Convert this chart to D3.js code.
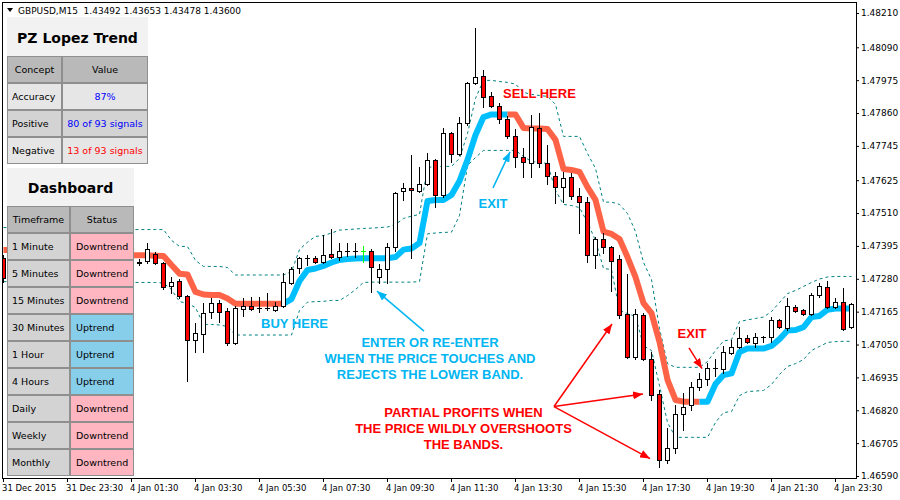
<!DOCTYPE html>
<html>
<head>
<meta charset="utf-8">
<title>GBPUSD M15 - PZ Lopez Trend</title>
<script src="https://cdn.jsdelivr.net/npm/d3@7/dist/d3.min.js"></script>
<style>
  html, body { margin: 0; padding: 0; background: #ffffff; }
  svg { display: block; }
</style>
</head>
<body>
<svg id="chart" width="900" height="500"></svg>
<script>
// ---------------- data ----------------
const symbolInfo = "GBPUSD,M15  1.43492 1.43653 1.43478 1.43600";

// 15-minute candles, oldest first
const opens = [
  1.47353,1.47311,1.47336,1.47364,1.47340,1.47380,1.47352,1.47326,1.47358,1.47382,
  1.47346,1.47371,1.47394,1.47362,1.47340,1.47360,1.47364,1.47337,1.47342,1.47367,
  1.47335,1.47255,1.47272,1.47220,1.47066,1.47087,1.47164,1.47195,1.47167,1.47055,
  1.47174,1.47185,1.47178,1.47177,1.47171,1.47185,1.47265,1.47318,1.47353,1.47353,
  1.47339,1.47367,1.47356,1.47377,1.47376,1.47377,1.47377,1.47286,1.47314,1.47391,
  1.47587,1.47598,1.47587,1.47612,1.47696,1.47573,1.47790,1.47717,1.47825,1.47965,
  1.47990,1.47920,1.47885,1.47839,1.47780,1.47706,1.47685,1.47808,1.47685,1.47640,
  1.47601,1.47636,1.47570,1.47549,1.47363,1.47419,1.47391,1.47349,1.47157,1.47006,
  1.47153,1.46999,1.46877,1.46646,1.46688,1.46807,1.46838,1.46901,1.46929,1.46968,
  1.46964,1.47020,1.47041,1.47073,1.47055,1.47076,1.47076,1.47136,1.47108,1.47181,
  1.47171,1.47157,1.47223,1.47251,1.47181,1.47199,1.47111
];
const highs = [
  1.47363,1.47352,1.47380,1.47374,1.47395,1.47391,1.47363,1.47374,1.47402,1.47388,
  1.47384,1.47409,1.47405,1.47374,1.47381,1.47372,1.47374,1.47349,1.47405,1.47374,
  1.47339,1.47286,1.47279,1.47223,1.47125,1.47195,1.47213,1.47206,1.47178,1.47185,
  1.47213,1.47216,1.47216,1.47230,1.47199,1.47300,1.47321,1.47356,1.47363,1.47360,
  1.47433,1.47454,1.47405,1.47405,1.47405,1.47395,1.47384,1.47332,1.47405,1.47584,
  1.47615,1.47713,1.47671,1.47720,1.47699,1.47808,1.47794,1.47846,1.47969,1.48158,
  1.48011,1.47934,1.47895,1.47850,1.47804,1.47738,1.47853,1.47860,1.47748,1.47654,
  1.47654,1.47650,1.47598,1.47566,1.47426,1.47440,1.47395,1.47363,1.47297,1.47174,
  1.47160,1.47024,1.46891,1.46758,1.46838,1.46880,1.46918,1.46950,1.46985,1.46999,
  1.47045,1.47066,1.47111,1.47083,1.47090,1.47080,1.47146,1.47139,1.47213,1.47188,
  1.47174,1.47230,1.47265,1.47272,1.47213,1.47248,1.47195
];
const lows = [
  1.47269,1.47293,1.47325,1.47325,1.47332,1.47339,1.47311,1.47314,1.47351,1.47335,
  1.47339,1.47360,1.47353,1.47328,1.47332,1.47349,1.47326,1.47328,1.47335,1.47332,
  1.47244,1.47230,1.47213,1.46922,1.47024,1.47024,1.47143,1.47129,1.47048,1.47052,
  1.47150,1.47171,1.47164,1.47171,1.47167,1.47181,1.47262,1.47300,1.47328,1.47335,
  1.47335,1.47353,1.47346,1.47360,1.47356,1.47339,1.47234,1.47265,1.47265,1.47377,
  1.47556,1.47353,1.47584,1.47608,1.47531,1.47566,1.47689,1.47713,1.47818,1.47962,
  1.47881,1.47881,1.47825,1.47773,1.47671,1.47636,1.47636,1.47671,1.47612,1.47545,
  1.47549,1.47559,1.47440,1.47339,1.47318,1.47370,1.47237,1.47143,1.47003,1.46999,
  1.46996,1.46856,1.46621,1.46635,1.46670,1.46751,1.46821,1.46891,1.46908,1.46940,
  1.46950,1.47017,1.47038,1.47055,1.47041,1.47059,1.47059,1.47108,1.47101,1.47164,
  1.47153,1.47153,1.47216,1.47178,1.47178,1.47101,1.47108
];
const closes = [
  1.47283,1.47338,1.47363,1.47339,1.47381,1.47353,1.47325,1.47360,1.47383,1.47346,
  1.47370,1.47395,1.47363,1.47339,1.47363,1.47366,1.47343,1.47338,1.47384,1.47335,
  1.47251,1.47269,1.47220,1.47066,1.47090,1.47160,1.47195,1.47164,1.47055,1.47178,
  1.47185,1.47174,1.47177,1.47178,1.47185,1.47269,1.47314,1.47353,1.47352,1.47339,
  1.47363,1.47356,1.47377,1.47376,1.47377,1.47377,1.47321,1.47314,1.47391,1.47580,
  1.47598,1.47591,1.47612,1.47696,1.47573,1.47790,1.47717,1.47825,1.47965,1.47986,
  1.47916,1.47885,1.47839,1.47780,1.47706,1.47689,1.47811,1.47685,1.47640,1.47601,
  1.47633,1.47570,1.47549,1.47363,1.47419,1.47391,1.47342,1.47153,1.47006,1.47157,
  1.46999,1.46873,1.46646,1.46688,1.46807,1.46831,1.46901,1.46929,1.46968,1.46969,
  1.47024,1.47041,1.47073,1.47059,1.47076,1.47077,1.47136,1.47111,1.47185,1.47167,
  1.47157,1.47223,1.47255,1.47181,1.47199,1.47104,1.47192
];

// PZ Lopez Trend indicator: centre line, its direction (1 up, -1 down) and bands
const trend = [
  1.47381,1.47381,1.47381,1.47377,1.47377,1.47374,1.47374,1.47370,1.47370,1.47367,
  1.47367,1.47363,1.47363,1.47363,1.47363,1.47363,1.47362,1.47362,1.47362,1.47361,
  1.47360,1.47328,1.47298,1.47295,1.47234,1.47225,1.47223,1.47223,1.47211,1.47193,
  1.47193,1.47193,1.47193,1.47193,1.47193,1.47193,1.47209,1.47272,1.47311,1.47316,
  1.47325,1.47337,1.47346,1.47349,1.47351,1.47352,1.47352,1.47352,1.47352,1.47356,
  1.47382,1.47386,1.47405,1.47552,1.47556,1.47556,1.47573,1.47622,1.47696,1.47783,
  1.47846,1.47855,1.47855,1.47855,1.47855,1.47808,1.47806,1.47806,1.47804,1.47766,
  1.47664,1.47661,1.47654,1.47601,1.47556,1.47445,1.47437,1.47419,1.47356,1.47286,
  1.47195,1.47160,1.47059,1.46926,1.46856,1.46850,1.46850,1.46850,1.46850,1.46912,
  1.46943,1.46949,1.47024,1.47036,1.47036,1.47036,1.47045,1.47069,1.47099,1.47101,
  1.47111,1.47146,1.47150,1.47172,1.47176,1.47176,1.47176
];
const trendDir = [
  -1,-1,-1,-1,-1,-1,-1,-1,-1,-1,
  -1,-1,-1,-1,-1,-1,-1,-1,-1,-1,
  -1,-1,-1,-1,-1,-1,-1,-1,-1,-1,
  -1,-1,-1,-1,-1,-1, 1, 1, 1, 1,
   1, 1, 1, 1, 1, 1, 1, 1, 1, 1,
   1, 1, 1, 1, 1, 1, 1, 1, 1, 1,
   1, 1, 1, 1,-1,-1,-1,-1,-1,-1,
  -1,-1,-1,-1,-1,-1,-1,-1,-1,-1,
  -1,-1,-1,-1,-1,-1,-1,-1, 1, 1,
   1, 1, 1, 1, 1, 1, 1, 1, 1, 1,
   1, 1, 1, 1, 1, 1, 1
];
const upperBand = [
  1.47461,1.47461,1.47461,1.47461,1.47458,1.47458,1.47458,1.47458,1.47458,1.47458,
  1.47454,1.47454,1.47454,1.47454,1.47454,1.47454,1.47454,1.47454,1.47454,1.47454,
  1.47454,1.47416,1.47395,1.47395,1.47346,1.47325,1.47325,1.47325,1.47321,1.47295,
  1.47295,1.47295,1.47295,1.47295,1.47295,1.47295,1.47307,1.47384,1.47410,1.47430,
  1.47433,1.47442,1.47452,1.47454,1.47456,1.47458,1.47459,1.47461,1.47463,1.47472,
  1.47493,1.47501,1.47507,1.47671,1.47675,1.47675,1.47675,1.47703,1.47790,1.47913,
  1.47976,1.47976,1.47972,1.47969,1.47963,1.47934,1.47927,1.47923,1.47920,1.47892,
  1.47780,1.47780,1.47780,1.47720,1.47668,1.47550,1.47550,1.47542,1.47510,1.47447,
  1.47339,1.47279,1.47108,1.46985,1.46972,1.46972,1.46972,1.46972,1.46992,1.47031,
  1.47064,1.47069,1.47132,1.47138,1.47143,1.47148,1.47167,1.47199,1.47230,1.47241,
  1.47255,1.47269,1.47281,1.47288,1.47290,1.47290,1.47290
];
const lowerBand = [
  1.47272,1.47272,1.47272,1.47272,1.47272,1.47272,1.47272,1.47272,1.47272,1.47272,
  1.47270,1.47270,1.47269,1.47269,1.47269,1.47269,1.47269,1.47269,1.47269,1.47269,
  1.47267,1.47244,1.47202,1.47196,1.47181,1.47122,1.47122,1.47120,1.47115,1.47085,
  1.47085,1.47085,1.47085,1.47085,1.47085,1.47085,1.47085,1.47171,1.47200,1.47202,
  1.47203,1.47206,1.47206,1.47223,1.47244,1.47269,1.47270,1.47270,1.47270,1.47270,
  1.47270,1.47270,1.47272,1.47439,1.47442,1.47444,1.47445,1.47503,1.47678,1.47706,
  1.47731,1.47731,1.47731,1.47731,1.47731,1.47710,1.47692,1.47689,1.47685,1.47591,
  1.47542,1.47538,1.47531,1.47479,1.47416,1.47318,1.47314,1.47171,1.47160,1.47150,
  1.47048,1.47031,1.46908,1.46779,1.46727,1.46727,1.46727,1.46727,1.46727,1.46779,
  1.46814,1.46817,1.46873,1.46887,1.46889,1.46891,1.46912,1.46947,1.46975,1.46985,
  1.46999,1.47031,1.47045,1.47059,1.47062,1.47063,1.47063
];

// axis labels
const priceTicks = ["1.48210","1.48090","1.47975","1.47860","1.47745","1.47625","1.47510",
  "1.47395","1.47280","1.47165","1.47050","1.46935","1.46820","1.46705","1.46590"];
const timeLabels = ["31 Dec 2015","31 Dec 23:30","4 Jan 01:30","4 Jan 03:30","4 Jan 05:30",
  "4 Jan 07:30","4 Jan 09:30","4 Jan 11:30","4 Jan 13:30","4 Jan 15:30","4 Jan 17:30",
  "4 Jan 19:30","4 Jan 21:30","4 Jan 23:30"];
const barsPerTimeLabel = 8;

// statistics panel
const statsTitle = "PZ Lopez Trend";
const statsHeader = ["Concept", "Value"];
const statsConcepts = ["Accuracy", "Positive", "Negative"];
const statsValues = ["87%", "80 of 93 signals", "13 of 93 signals"];
const statsTone = ["good", "good", "bad"];

// multi-timeframe dashboard
const dashTitle = "Dashboard";
const dashHeader = ["Timeframe", "Status"];
const dashTimeframes = ["1 Minute","5 Minutes","15 Minutes","30 Minutes","1 Hour","4 Hours","Daily","Weekly","Monthly"];
const dashStatus = ["Downtrend","Downtrend","Downtrend","Uptrend","Uptrend","Uptrend","Downtrend","Downtrend","Downtrend"];

// trading notes, anchored in bar / price space
const notes = [
  { lines: ["SELL HERE"], bar: 67.06, price: 1.47930, tone: "sell" },
  { lines: ["EXIT"], bar: 61.25, price: 1.47545, tone: "buy" },
  { lines: ["BUY HERE"], bar: 36.44, price: 1.47122, tone: "buy" },
  { lines: ["ENTER OR RE-ENTER", "WHEN THE PRICE TOUCHES AND", "REJECTS THE LOWER BAND."], bar: 53.375, price: 1.47056, tone: "buy" },
  { lines: ["PARTIAL PROFITS WHEN", "THE PRICE WILDLY OVERSHOOTS", "THE BANDS."], bar: 57.56, price: 1.46811, tone: "sell" },
  { lines: ["EXIT"], bar: 86.125, price: 1.47090, tone: "sell" }
];
const noteArrows = [
  { from: [52.625, 1.47097], to: [46.75, 1.47237], tone: "buy" },
  { from: [61.25, 1.47598], to: [63.375, 1.47724], tone: "buy" },
  { from: [68.875, 1.46833], to: [76.125, 1.47122], tone: "sell" },
  { from: [68.875, 1.46833], to: [80.0, 1.46877], tone: "sell" },
  { from: [68.875, 1.46833], to: [80.875, 1.46651], tone: "sell" },
  { from: [85.75, 1.47038], to: [87.375, 1.46966], tone: "sell" }
];

// ---------------- styles ----------------
const COLORS = {
  bull: "#ffffff", bear: "#ff0000", outline: "#000000", flat: "#00ff00",
  up: "#00bfff", down: "#ff6347", band: "#008080",
  buy: "#00b6f2", sell: "#ff0000",
  cellBorder: "#8f8f8f", title: "#f2f2f2", header: "#b9b9b9",
  cellDark: "#d3d3d3", cellLight: "#e6e6e6",
  upCell: "#87ceeb", downCell: "#ffb6c1",
  good: "#0000ff", bad: "#ff0000"
};
const AXIS_FONT = "'DejaVu Sans', Verdana, sans-serif";
const NOTE_FONT = "'Liberation Sans', Arial, sans-serif";

// ---------------- chart ----------------
const svg = d3.select("#chart");
const frame = { left: 2, top: 2, right: 856, bottom: 478 };
const n = closes.length;
const bars = d3.range(n);

const x = d3.scaleLinear().domain([0, n - 1]).range([3, 3 + 8 * (n - 1)]);
const y = d3.scaleLinear().domain([1.46590, 1.48210]).range([476, 13]);
const py = v => Math.round(y(v));

svg.append("rect").attr("width", 900).attr("height", 500).attr("fill", "#fff");

const defs = svg.append("defs");
defs.append("clipPath").attr("id", "plotClip").append("rect")
  .attr("x", frame.left + 1).attr("y", frame.top + 1)
  .attr("width", frame.right - frame.left - 1).attr("height", frame.bottom - frame.top - 1);

const plot = svg.append("g").attr("clip-path", "url(#plotClip)");

// bands
[upperBand, lowerBand].forEach(band => {
  plot.append("path")
    .attr("d", d3.line().x(i => x(i) + 0.5).y(i => y(band[i]) + 0.5)(bars))
    .attr("fill", "none")
    .attr("stroke", COLORS.band)
    .attr("stroke-width", 1)
    .attr("stroke-dasharray", "3,3");
});

// trend line, coloured by direction; segment (i-1, i) takes the colour of bar i
const runs = [];
let runStart = 0;
for (let i = 1; i <= n; i++) {
  if (i === n || trendDir[i] !== trendDir[runStart]) {
    runs.push({ from: Math.max(runStart - 1, 0), to: i - 1, dir: trendDir[runStart] });
    runStart = i;
  }
}
const trendLine = d3.line().x(i => x(i) + 0.5).y(i => y(trend[i]));
runs.forEach(r => {
  plot.append("path")
    .attr("d", trendLine(d3.range(r.from, r.to + 1)))
    .attr("fill", "none")
    .attr("stroke", r.dir > 0 ? COLORS.up : COLORS.down)
    .attr("stroke-width", 6)
    .attr("stroke-linejoin", "round")
    .attr("stroke-linecap", "butt");
});

// candles
const candles = plot.append("g");
bars.forEach(i => {
  const o = opens[i], c = closes[i];
  const cx = Math.round(x(i));
  const flat = o === c;
  const ink = flat ? COLORS.flat : COLORS.outline;
  candles.append("line")
    .attr("x1", cx + 0.5).attr("x2", cx + 0.5)
    .attr("y1", py(highs[i])).attr("y2", py(lows[i]) + 1)
    .attr("stroke", ink).attr("stroke-width", 1);
  const top = py(Math.max(o, c)), bot = py(Math.min(o, c));
  if (bot > top) {
    candles.append("rect")
      .attr("x", cx - 1.5).attr("y", top + 0.5)
      .attr("width", 4).attr("height", bot - top)
      .attr("fill", c > o ? COLORS.bull : COLORS.bear)
      .attr("stroke", ink).attr("stroke-width", 1);
  } else {
    candles.append("line")
      .attr("x1", cx - 2).attr("x2", cx + 3)
      .attr("y1", top + 0.5).attr("y2", top + 0.5)
      .attr("stroke", ink).attr("stroke-width", 1);
  }
});

// frame
svg.append("rect")
  .attr("x", frame.left + 0.5).attr("y", frame.top + 0.5)
  .attr("width", frame.right - frame.left).attr("height", frame.bottom - frame.top)
  .attr("fill", "none").attr("stroke", "#000").attr("stroke-width", 1);

// price axis
const yAxis = d3.axisRight(y)
  .tickValues(priceTicks.map(Number))
  .tickFormat((d, k) => priceTicks[k])
  .tickSize(3).tickPadding(2);
svg.append("g")
  .attr("transform", `translate(${frame.right},0)`)
  .call(yAxis)
  .call(g => g.select(".domain").remove())
  .call(g => g.selectAll("line").attr("stroke", "#000"))
  .call(g => g.selectAll("text").attr("fill", "#000")
    .style("font-family", AXIS_FONT).style("font-size", "9px"));

// time axis
const xAxis = d3.axisBottom(x)
  .tickValues(timeLabels.map((_, k) => k * barsPerTimeLabel))
  .tickFormat((d, k) => timeLabels[k])
  .tickSize(4).tickPadding(3);
svg.append("g")
  .attr("transform", `translate(0,${frame.bottom})`)
  .call(xAxis)
  .call(g => g.select(".domain").remove())
  .call(g => g.selectAll("line").attr("stroke", "#000"))
  .call(g => g.selectAll("text").attr("fill", "#000")
    .attr("text-anchor", "start").attr("dx", -1.5)
    .style("font-family", AXIS_FONT).style("font-size", "8.5px"));

// symbol caption
svg.append("path").attr("d", "M7,8 L13,8 L10,12 Z").attr("fill", "#000");
svg.append("text")
  .attr("x", 18).attr("y", 14)
  .style("white-space", "pre")
  .style("font-family", AXIS_FONT).style("font-size", "9px")
  .attr("fill", "#000")
  .text(symbolInfo);

// ---------------- panels ----------------
const CELL_FONT = "9.5px";
function cell(g, x0, y0, w, h, fill) {
  g.append("rect")
    .attr("x", x0 + 0.5).attr("y", y0 + 0.5)
    .attr("width", w - 1).attr("height", h - 1)
    .attr("fill", fill).attr("stroke", COLORS.cellBorder).attr("stroke-width", 1);
}
function cellText(g, tx, ty, txt, anchor, color) {
  g.append("text")
    .attr("x", tx).attr("y", ty)
    .attr("text-anchor", anchor)
    .attr("dominant-baseline", "central")
    .attr("fill", color)
    .style("font-family", AXIS_FONT).style("font-size", CELL_FONT)
    .text(txt);
}
function panel(opt) {
  const g = svg.append("g");
  const [c1, c2] = opt.cols;
  const width = c1 + c2;
  g.append("rect").attr("x", opt.x).attr("y", opt.y)
    .attr("width", width).attr("height", opt.titleH).attr("fill", COLORS.title);
  g.append("text")
    .attr("x", opt.x + width / 2).attr("y", opt.y + opt.titleH / 2 + 1)
    .attr("text-anchor", "middle").attr("dominant-baseline", "central")
    .style("font-family", AXIS_FONT).style("font-size", "14px").style("font-weight", "bold")
    .attr("fill", "#000").text(opt.title);
  let yy = opt.y + opt.titleH;
  cell(g, opt.x, yy, c1, opt.rowH, COLORS.header);
  cell(g, opt.x + c1, yy, c2, opt.rowH, COLORS.header);
  cellText(g, opt.x + c1 / 2, yy + opt.rowH / 2, opt.header[0], "middle", "#000");
  cellText(g, opt.x + c1 + c2 / 2, yy + opt.rowH / 2, opt.header[1], "middle", "#000");
  yy += opt.rowH;
  opt.rows.forEach((r, k) => {
    cell(g, opt.x, yy, c1, opt.rowH, r.labelFill);
    cell(g, opt.x + c1, yy, c2, opt.rowH, r.valueFill);
    cellText(g, opt.x + 5, yy + opt.rowH / 2, r.label, "start", "#000");
    const vx = r.valueAnchor === "middle" ? opt.x + c1 + c2 / 2 : opt.x + c1 + 6;
    cellText(g, vx, yy + opt.rowH / 2, r.value, r.valueAnchor, r.valueColor);
    yy += opt.rowH;
  });
}

panel({
  x: 7, y: 17, titleH: 39, rowH: 27, cols: [55, 86],
  title: statsTitle, header: statsHeader,
  rows: statsConcepts.map((c, k) => ({
    label: c, value: statsValues[k], valueAnchor: "middle",
    labelFill: k % 2 ? COLORS.cellDark : COLORS.cellLight,
    valueFill: k % 2 ? COLORS.cellDark : COLORS.cellLight,
    valueColor: COLORS[statsTone[k]]
  }))
});

panel({
  x: 7, y: 168, titleH: 38, rowH: 27, cols: [63, 64],
  title: dashTitle, header: dashHeader,
  rows: dashTimeframes.map((t, k) => ({
    label: t, value: dashStatus[k], valueAnchor: "start",
    labelFill: COLORS.cellDark,
    valueFill: dashStatus[k] === "Uptrend" ? COLORS.upCell : COLORS.downCell,
    valueColor: "#000"
  }))
});

// ---------------- notes ----------------
const noteLayer = svg.append("g");
["buy", "sell"].forEach(t => {
  defs.append("marker")
    .attr("id", "head-" + t)
    .attr("viewBox", "0 0 10 8")
    .attr("refX", 10).attr("refY", 4)
    .attr("markerUnits", "userSpaceOnUse")
    .attr("markerWidth", 10).attr("markerHeight", 8)
    .attr("orient", "auto")
    .append("path").attr("d", "M0,0 L10,4 L0,8 Z").attr("fill", COLORS[t]);
});
noteArrows.forEach(a => {
  noteLayer.append("line")
    .attr("x1", x(a.from[0])).attr("y1", y(a.from[1]))
    .attr("x2", x(a.to[0])).attr("y2", y(a.to[1]))
    .attr("stroke", COLORS[a.tone]).attr("stroke-width", 1.5)
    .attr("marker-end", `url(#head-${a.tone})`);
});
const LINE_GAP = 15.6;
notes.forEach(nt => {
  nt.lines.forEach((ln, k) => {
    noteLayer.append("text")
      .attr("x", x(nt.bar)).attr("y", y(nt.price) + k * LINE_GAP)
      .attr("text-anchor", "middle").attr("dominant-baseline", "central")
      .attr("fill", COLORS[nt.tone])
      .style("font-family", NOTE_FONT).style("font-size", "13px").style("font-weight", "bold")
      .text(ln);
  });
});
</script>
</body>
</html>
